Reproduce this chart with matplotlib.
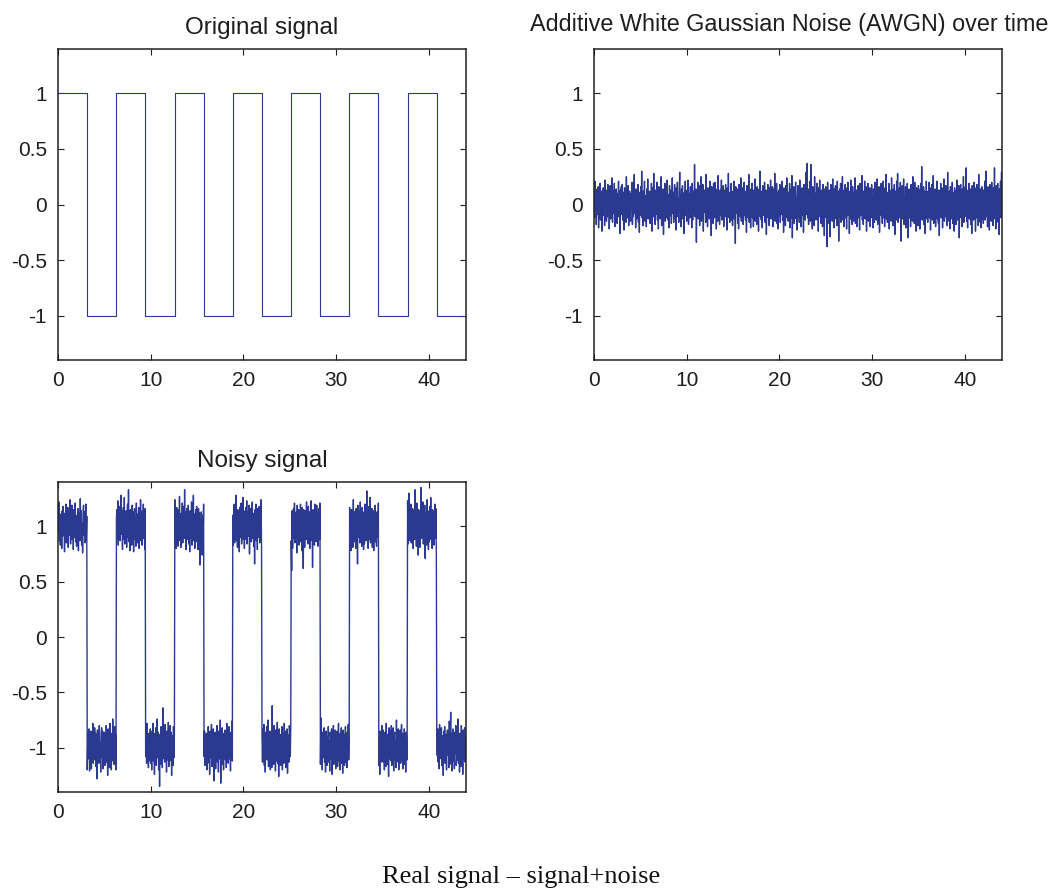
import matplotlib.pyplot as plt
import numpy as np

# Data
# square wave: switching instants and the level held after each one
switch_times = [0, 3.14, 6.28, 9.42, 12.57, 15.71, 18.85, 21.99, 25.13,
                28.27, 31.42, 34.56, 37.70, 40.84, 44.0]
levels = [1, -1, 1, -1, 1, -1, 1, -1, 1, -1, 1, -1, 1, -1]

dt = 0.05  # sample spacing of the noise records

# AWGN record (top right panel), one row per time unit
awgn = [
    0.08, -0.12, 0.21, -0.05, 0.14, -0.18, 0.02, 0.11, -0.09, 0.16, -0.21, 0.06, -0.03, 0.19, -0.14, 0.07, 0.12, -0.24, 0.04, -0.1,
    0.15, -0.07, 0.09, -0.19, 0.22, -0.02, 0.13, -0.15, 0.05, -0.11, 0.18, -0.06, 0.1, -0.22, 0.01, 0.17, -0.13, 0.08, -0.04, 0.24,
    -0.16, 0.03, 0.12, -0.08, 0.19, -0.2, 0.07, -0.12, 0.14, 0.02, -0.17, 0.1, -0.05, 0.21, -0.11, 0.06, -0.26, 0.13, -0.01, 0.16,
    -0.09, 0.18, -0.14, 0.04, 0.11, -0.23, 0.15, -0.06, 0.08, -0.16, 0.25, -0.1, 0.03, -0.12, 0.17, -0.19, 0.09, 0.12, -0.07, -0.15,
    0.1, -0.04, 0.2, -0.18, 0.06, -0.11, 0.13, 0.27, -0.08, 0.02, -0.21, 0.14, -0.13, 0.09, -0.03, 0.18, -0.16, 0.05, -0.25, 0.11,
    0.03, 0.16, -0.1, 0.3, -0.12, 0.07, -0.19, 0.12, -0.05, 0.21, -0.15, 0.08, 0.01, -0.2, 0.14, -0.08, 0.23, -0.13, 0.06, -0.02,
    0.12, -0.17, 0.09, -0.07, 0.19, -0.24, 0.05, 0.15, -0.11, 0.28, -0.04, 0.1, -0.18, 0.13, -0.09, 0.02, 0.2, -0.14, 0.07, -0.22,
    0.16, -0.06, 0.11, -0.13, 0.04, 0.25, -0.19, 0.08, -0.02, 0.14, -0.27, 0.12, -0.08, 0.19, -0.15, 0.05, 0.1, -0.12, 0.22, -0.05,
    -0.14, 0.09, -0.21, 0.17, 0.03, -0.1, 0.13, -0.17, 0.06, 0.24, -0.08, 0.11, -0.16, 0.02, 0.18, -0.12, 0.07, -0.23, 0.15, -0.04,
    0.2, -0.11, 0.05, -0.16, 0.12, 0.29, -0.07, 0.09, -0.2, 0.14, -0.03, 0.17, -0.13, 0.08, -0.26, 0.11, -0.06, 0.21, -0.1, 0.04,
    -0.15, 0.13, -0.05, 0.22, -0.18, 0.07, 0.1, -0.12, 0.16, -0.08, 0.03, -0.21, 0.19, -0.14, 0.06, 0.12, -0.09, 0.36, -0.11, 0.05,
    0.14, -0.34, 0.09, -0.06, 0.2, -0.13, 0.04, 0.17, -0.19, 0.11, -0.02, 0.25, -0.15, 0.08, -0.1, 0.18, -0.24, 0.06, 0.13, -0.07,
    0.1, -0.16, 0.27, -0.09, 0.03, -0.2, 0.15, -0.05, 0.12, -0.13, 0.21, -0.11, 0.07, -0.28, 0.16, -0.04, 0.09, -0.17, 0.19, 0.02,
    -0.12, 0.2, -0.08, 0.14, -0.22, 0.06, 0.11, -0.15, 0.26, -0.03, 0.08, -0.18, 0.13, -0.1, 0.05, 0.22, -0.14, 0.1, -0.06, 0.17,
    -0.2, 0.07, 0.13, -0.11, 0.18, -0.07, 0.04, -0.23, 0.15, -0.12, 0.28, -0.09, 0.06, -0.16, 0.11, -0.02, 0.19, -0.14, 0.08, -0.19,
    0.12, -0.05, 0.21, -0.13, 0.09, -0.35, 0.16, -0.08, 0.03, 0.14, -0.17, 0.1, -0.22, 0.18, -0.06, 0.13, -0.11, 0.24, -0.15, 0.05,
    -0.09, 0.15, -0.18, 0.07, 0.2, -0.1, 0.02, -0.14, 0.12, -0.25, 0.17, -0.04, 0.09, -0.12, 0.27, -0.16, 0.06, 0.11, -0.21, 0.14,
    -0.03, 0.19, -0.12, 0.08, -0.2, 0.13, -0.07, 0.23, -0.15, 0.05, 0.1, -0.18, 0.16, -0.09, 0.02, -0.24, 0.14, -0.06, 0.3, -0.11,
    0.07, -0.14, 0.12, -0.21, 0.17, -0.04, 0.09, -0.1, 0.2, -0.16, 0.05, 0.13, -0.27, 0.11, -0.07, 0.18, -0.12, 0.04, -0.19, 0.15,
    -0.06, 0.22, -0.13, 0.1, -0.08, 0.16, -0.2, 0.03, 0.14, -0.11, 0.28, -0.15, 0.07, -0.05, 0.19, -0.17, 0.11, -0.22, 0.06, 0.13,
    -0.1, 0.18, -0.16, 0.05, 0.12, -0.09, 0.21, -0.14, 0.08, -0.25, 0.15, -0.03, 0.1, -0.19, 0.17, -0.07, 0.24, -0.12, 0.04, -0.15,
    0.11, -0.06, 0.19, -0.21, 0.07, 0.14, -0.12, 0.26, -0.3, 0.09, -0.04, 0.16, -0.17, 0.12, -0.08, 0.2, -0.13, 0.05, -0.23, 0.1,
    0.17, -0.11, 0.03, -0.16, 0.22, -0.07, 0.13, -0.2, 0.09, 0.15, -0.1, 0.06, -0.25, 0.18, -0.05, 0.11, -0.14, 0.29, -0.09, 0.04,
    0.37, -0.12, 0.08, -0.18, 0.14, -0.06, 0.21, -0.15, 0.36, -0.1, 0.05, -0.22, 0.16, -0.03, 0.12, -0.19, 0.25, -0.08, 0.1, -0.14,
    0.06, 0.19, -0.13, 0.09, -0.24, 0.15, -0.07, 0.22, -0.11, 0.04, -0.17, 0.13, 0.08, -0.2, 0.18, -0.05, 0.11, -0.28, 0.14, -0.09,
    0.16, -0.12, 0.07, -0.38, 0.2, -0.04, 0.1, -0.17, 0.13, -0.29, 0.05, 0.18, -0.1, 0.12, -0.15, 0.23, -0.06, 0.09, -0.21, 0.14,
    -0.08, 0.17, -0.13, 0.03, -0.19, 0.21, -0.09, 0.12, -0.33, 0.06, 0.14, -0.11, 0.19, -0.16, 0.08, -0.04, 0.25, -0.14, 0.1, -0.2,
    0.13, -0.07, 0.18, -0.12, 0.04, -0.22, 0.15, -0.1, 0.2, -0.05, 0.09, -0.26, 0.12, -0.13, 0.22, -0.08, 0.06, -0.18, 0.16, -0.03,
    -0.15, 0.11, -0.09, 0.24, -0.17, 0.07, 0.13, -0.2, 0.1, -0.06, 0.17, -0.12, 0.03, -0.23, 0.19, -0.1, 0.14, -0.07, 0.26, -0.14,
    0.05, -0.18, 0.12, -0.08, 0.21, -0.13, 0.09, 0.16, -0.24, 0.11, -0.04, 0.19, -0.15, 0.07, -0.11, 0.15, -0.2, 0.1, -0.06, 0.18,
    -0.12, 0.08, -0.21, 0.14, 0.02, -0.16, 0.2, -0.09, 0.13, -0.14, 0.06, 0.23, -0.18, 0.1, -0.07, 0.16, -0.25, 0.12, -0.03, 0.19,
    -0.1, 0.14, -0.17, 0.06, 0.21, -0.12, 0.09, -0.2, 0.15, -0.05, 0.27, -0.13, 0.08, -0.16, 0.11, -0.08, 0.19, -0.22, 0.13, -0.04,
    0.1, -0.15, 0.24, -0.1, 0.05, -0.19, 0.14, -0.07, 0.18, -0.27, 0.12, 0.03, -0.14, 0.21, -0.09, 0.28, -0.16, 0.07, -0.12, 0.15,
    -0.06, 0.2, -0.33, 0.11, -0.08, 0.17, -0.13, 0.09, 0.23, -0.18, 0.04, -0.11, 0.16, -0.21, 0.13, -0.05, 0.19, -0.3, 0.1, -0.09,
    0.14, -0.12, 0.07, -0.2, 0.18, -0.06, 0.12, -0.15, 0.25, -0.1, 0.03, -0.17, 0.2, -0.13, 0.08, -0.24, 0.15, -0.04, 0.11, -0.19,
    0.17, -0.08, 0.13, -0.22, 0.06, 0.19, -0.11, 0.34, -0.14, 0.09, -0.05, 0.16, -0.18, 0.12, -0.26, 0.1, -0.07, 0.21, -0.13, 0.04,
    -0.16, 0.12, -0.09, 0.2, -0.12, 0.07, -0.23, 0.15, -0.04, 0.18, -0.14, 0.1, 0.26, -0.17, 0.05, -0.1, 0.14, -0.2, 0.09, -0.06,
    0.21, -0.13, 0.08, -0.17, 0.13, -0.28, 0.11, -0.05, 0.19, -0.12, 0.06, 0.15, -0.21, 0.1, -0.08, 0.23, -0.15, 0.03, -0.11, 0.17,
    -0.07, 0.14, -0.19, 0.29, -0.1, 0.05, -0.15, 0.12, -0.22, 0.16, -0.04, 0.09, -0.13, 0.2, -0.17, 0.07, 0.11, -0.24, 0.15, -0.09,
    0.12, -0.18, 0.06, 0.22, -0.14, 0.1, -0.07, 0.17, -0.3, 0.13, -0.02, 0.18, -0.12, 0.08, -0.2, 0.14, -0.09, 0.25, -0.16, 0.05,
    -0.11, 0.16, -0.05, 0.33, -0.15, 0.09, -0.21, 0.13, -0.08, 0.19, -0.13, 0.04, 0.14, -0.18, 0.1, -0.26, 0.17, -0.06, 0.11, -0.14,
    0.2, -0.09, 0.15, -0.24, 0.08, -0.12, 0.18, -0.05, 0.12, -0.19, 0.27, -0.1, 0.06, -0.16, 0.14, -0.21, 0.09, 0.16, -0.13, 0.03,
    -0.17, 0.13, -0.08, 0.21, -0.14, 0.05, 0.3, -0.11, 0.1, -0.2, 0.16, -0.06, 0.12, -0.23, 0.18, -0.09, 0.07, -0.15, 0.2, -0.04,
    0.11, -0.19, 0.15, -0.07, 0.33, -0.13, 0.09, -0.22, 0.17, -0.1, 0.05, 0.19, -0.16, 0.12, -0.27, 0.14, -0.08, 0.21, -0.12, 0.29,
]

# noise riding on the square wave in the bottom panel
noise_on_signal = [
    0.15, -0.06, 0.22, -0.13, 0.08, -0.17, 0.11, 0.03, -0.2, 0.14, -0.09, 0.18, -0.04, 0.09, -0.23, 0.12, -0.07, 0.2, -0.15, 0.06,
    -0.11, 0.17, -0.19, 0.05, 0.13, -0.08, 0.24, -0.16, 0.02, -0.12, 0.19, -0.05, 0.1, -0.21, 0.15, -0.1, 0.07, 0.21, -0.14, 0.04,
    -0.18, 0.1, -0.06, 0.16, -0.22, 0.12, 0.06, -0.13, 0.25, -0.09, 0.14, -0.17, 0.03, -0.24, 0.11, 0.19, -0.08, 0.13, -0.15, 0.07,
    0.2, -0.12, 0.09, -0.2, 0.05, 0.14, -0.1, 0.17, -0.21, 0.08, -0.04, 0.15, -0.19, 0.11, -0.07, 0.22, -0.14, 0.06, -0.11, 0.18,
    -0.08, 0.13, -0.17, 0.07, -0.28, 0.16, -0.05, 0.1, -0.14, 0.2, -0.11, 0.04, -0.22, 0.12, 0.18, -0.09, 0.15, -0.19, 0.08, -0.03,
    0.14, -0.16, 0.11, -0.07, 0.2, -0.13, 0.06, -0.25, 0.17, -0.04, 0.1, -0.18, 0.22, -0.1, 0.05, -0.2, 0.13, -0.08, 0.26, -0.12,
    0.09, -0.15, 0.19, -0.05, 0.12, -0.2, 0.08, 0.15, -0.11, 0.23, -0.17, 0.06, -0.09, 0.18, -0.13, 0.1, 0.28, -0.07, 0.14, -0.21,
    0.05, 0.17, -0.12, 0.26, -0.16, 0.09, -0.05, 0.14, -0.19, 0.11, 0.2, -0.1, 0.33, -0.14, 0.07, -0.22, 0.15, -0.03, 0.12, -0.17,
    0.19, -0.09, 0.13, -0.23, 0.06, 0.16, -0.12, 0.08, -0.18, 0.21, -0.06, 0.11, -0.15, 0.04, 0.17, -0.2, 0.1, -0.08, 0.24, -0.13,
    0.07, -0.17, 0.14, -0.05, 0.2, -0.11, 0.03, -0.21, 0.16, -0.08, 0.12, -0.14, 0.22, -0.1, 0.06, -0.18, 0.13, 0.09, -0.12, 0.17,
    -0.14, 0.1, -0.2, 0.15, -0.06, 0.22, -0.12, 0.08, -0.24, 0.13, -0.03, 0.18, -0.16, 0.11, 0.26, -0.09, 0.14, -0.2, 0.07, -0.35,
    0.12, -0.15, 0.19, -0.08, 0.09, -0.18, 0.36, -0.1, 0.05, 0.17, -0.13, 0.21, -0.06, 0.1, -0.22, 0.15, -0.11, 0.04, 0.23, -0.17,
    0.08, -0.12, 0.2, -0.07, 0.14, -0.25, 0.11, 0.05, -0.16, 0.19, -0.09, 0.13, 0.24, -0.14, 0.07, -0.2, 0.17, -0.05, 0.1, -0.18,
    0.15, -0.1, 0.27, -0.13, 0.06, -0.19, 0.12, -0.04, 0.21, -0.15, 0.09, 0.18, -0.11, 0.33, -0.08, 0.13, -0.21, 0.07, 0.16, -0.12,
    -0.06, 0.19, -0.16, 0.1, -0.23, 0.14, 0.05, -0.11, 0.22, -0.17, 0.08, -0.07, 0.28, -0.13, 0.11, -0.2, 0.04, 0.15, -0.1, 0.18,
    -0.14, 0.09, -0.21, 0.16, -0.05, 0.12, -0.35, 0.07, -0.18, 0.13, 0.02, -0.26, 0.1, -0.12, 0.2, -0.08, 0.15, -0.16, 0.06, -0.11,
    0.13, -0.2, 0.08, -0.14, 0.19, -0.06, 0.11, -0.24, 0.15, -0.09, 0.05, 0.21, -0.17, 0.1, -0.12, 0.17, -0.3, 0.08, -0.05, 0.14,
    -0.19, 0.11, -0.08, 0.2, -0.13, 0.06, -0.22, 0.15, -0.1, 0.04, 0.25, -0.32, 0.12, -0.07, 0.18, -0.15, 0.09, -0.2, 0.13, -0.04,
    0.16, -0.11, 0.07, -0.18, 0.22, -0.06, 0.13, -0.14, 0.09, 0.19, -0.1, 0.05, -0.21, 0.14, -0.08, 0.24, -0.12, 0.1, -0.17, 0.06,
    0.2, -0.15, 0.11, -0.04, 0.28, -0.13, 0.08, -0.19, 0.15, -0.07, 0.12, -0.23, 0.17, 0.03, -0.1, 0.21, -0.16, 0.09, -0.12, 0.26,
    -0.08, 0.14, -0.2, 0.1, -0.05, 0.17, -0.12, 0.23, -0.16, 0.07, 0.13, -0.09, 0.19, -0.25, 0.11, -0.03, 0.16, -0.14, 0.08, 0.22,
    -0.11, 0.05, -0.18, 0.12, -0.34, 0.15, -0.07, 0.2, -0.13, 0.09, -0.21, 0.16, 0.04, -0.1, 0.18, -0.15, 0.11, -0.06, 0.24, -0.19,
    0.1, -0.13, 0.17, -0.08, 0.21, -0.16, 0.06, -0.22, 0.14, -0.04, 0.19, -0.11, 0.08, 0.25, -0.17, 0.12, -0.09, 0.15, -0.2, 0.07,
    0.13, -0.18, 0.38, -0.1, 0.09, -0.15, 0.2, -0.06, 0.11, -0.21, 0.16, -0.12, 0.05, 0.23, -0.14, 0.1, -0.26, 0.17, -0.07, 0.12,
    -0.16, 0.08, -0.11, 0.19, -0.2, 0.13, 0.06, -0.14, 0.22, -0.09, 0.15, -0.18, 0.1, -0.05, 0.17, -0.23, 0.12, 0.07, -0.13, 0.2,
    0.12, -0.08, 0.18, -0.13, -0.4, 0.14, -0.2, 0.06, 0.16, -0.11, 0.21, -0.15, 0.09, -0.07, 0.13, -0.24, 0.19, -0.1, 0.05, 0.15,
    -0.17, 0.12, -0.06, 0.2, -0.14, 0.08, -0.22, 0.17, -0.1, -0.38, 0.15, 0.11, -0.19, 0.07, 0.14, -0.12, 0.22, -0.08, 0.1, -0.16,
    0.18, -0.09, 0.13, -0.2, 0.06, -0.13, 0.23, -0.11, 0.09, -0.37, 0.15, -0.05, 0.12, -0.17, 0.2, -0.1, 0.07, -0.14, 0.19, -0.06,
    0.12, -0.18, 0.08, 0.16, -0.12, 0.21, -0.15, 0.27, -0.07, 0.1, -0.2, 0.14, -0.09, 0.05, 0.18, -0.13, 0.11, -0.22, 0.15, -0.04,
    -0.16, 0.1, -0.07, 0.19, -0.13, 0.06, -0.21, 0.14, 0.09, -0.1, 0.17, -0.24, 0.12, -0.05, 0.2, -0.15, 0.08, -0.11, 0.16, -0.19,
    0.11, -0.06, 0.15, -0.17, 0.08, 0.22, -0.12, 0.05, -0.2, 0.13, -0.09, 0.18, -0.14, 0.1, -0.23, 0.16, -0.04, 0.12, -0.16, 0.07,
    0.19, -0.13, 0.09, -0.18, 0.14, -0.07, 0.21, -0.11, 0.06, 0.17, -0.16, 0.1, -0.22, 0.15, -0.05, 0.12, -0.19, 0.24, -0.09, 0.13,
    -0.14, 0.08, -0.2, 0.16, -0.06, 0.11, -0.34, 0.19, -0.1, 0.14, 0.05, -0.15, 0.22, -0.12, 0.09, -0.18, 0.17, -0.07, 0.13, -0.21,
    0.1, -0.16, 0.2, -0.09, 0.15, -0.13, 0.32, -0.08, 0.12, -0.2, 0.07, 0.18, -0.12, 0.26, -0.15, 0.1, -0.06, 0.16, -0.19, 0.09,
    0.14, -0.22, 0.11, -0.05, 0.19, -0.14, 0.08, -0.18, 0.13, 0.06, -0.1, 0.21, -0.16, 0.09, -0.24, 0.15, -0.07, 0.12, -0.13, 0.2,
    -0.09, 0.16, -0.13, 0.07, -0.2, 0.14, 0.1, -0.17, 0.22, -0.06, 0.12, -0.15, 0.09, -0.26, 0.18, -0.1, 0.05, 0.15, -0.12, 0.2,
    -0.16, 0.11, -0.07, 0.18, -0.21, 0.09, 0.14, -0.11, 0.06, -0.18, 0.25, -0.13, 0.1, -0.05, 0.17, -0.2, 0.12, -0.08, 0.16, -0.14,
    0.07, 0.21, -0.12, 0.13, -0.19, 0.08, -0.06, 0.17, -0.15, 0.1, -0.22, 0.14, 0.04, -0.11, 0.23, -0.16, 0.09, 0.3, -0.13, 0.11,
    -0.08, 0.2, -0.15, 0.12, -0.05, 0.16, -0.2, 0.09, 0.14, -0.12, 0.33, -0.1, 0.07, -0.18, 0.21, -0.14, 0.11, -0.26, 0.15, -0.06,
    0.13, -0.19, 0.1, 0.35, -0.11, 0.17, -0.07, 0.22, -0.16, 0.09, -0.13, 0.19, -0.29, 0.12, 0.05, -0.17, 0.24, -0.09, 0.14, -0.21,
    0.09, -0.14, 0.18, -0.08, 0.26, -0.12, 0.11, -0.2, 0.15, -0.05, 0.13, -0.17, 0.07, 0.2, -0.11, 0.16, -0.23, 0.1, -0.07, 0.17,
    -0.13, 0.08, -0.19, 0.21, -0.1, 0.14, -0.06, 0.18, -0.16, 0.11, 0.05, -0.25, 0.15, -0.09, 0.19, -0.14, 0.07, 0.12, -0.2, 0.1,
    0.16, -0.07, 0.12, -0.18, 0.24, -0.1, 0.08, 0.32, -0.15, 0.13, -0.21, 0.06, 0.17, -0.12, 0.1, -0.19, 0.14, -0.05, 0.2, -0.16,
    -0.09, 0.15, -0.11, 0.26, -0.14, 0.07, -0.22, 0.13, 0.09, -0.17, 0.2, -0.08, 0.12, -0.24, 0.16, -0.1, 0.05, 0.18, -0.13, 0.11,
]

# Build the series
t = np.arange(len(awgn)) * dt
idx = np.searchsorted(switch_times, t, side="right") - 1
signal_sampled = np.array(levels)[idx]
noisy = signal_sampled + np.array(noise_on_signal)

# Plotting
plt.rcParams.update({"font.family": ["Liberation Sans", "DejaVu Sans"]})
line_color = "#2b3991"
text_color = "#1e1e1e"

fig = plt.figure(figsize=(10.61, 8.88), dpi=100)
ax1 = fig.add_axes([0.0547, 0.5946, 0.3845, 0.3502])
ax2 = fig.add_axes([0.5598, 0.5946, 0.3845, 0.3502])
ax3 = fig.add_axes([0.0547, 0.1081, 0.3845, 0.3491])

ax1.step(switch_times, levels + [levels[-1]], where="post", color=line_color, lw=0.8)
ax2.plot(t, awgn, color=line_color, lw=1.0)
ax3.plot(t, noisy, color=line_color, lw=1.0)

ax1.set_title("Original signal", fontsize=17.5, pad=11, color=text_color)
ax2.set_title("Additive White Gaussian Noise (AWGN) over time", fontsize=16.8,
              pad=13, x=0.479, color=text_color)
ax3.set_title("Noisy signal", fontsize=17.5, pad=11, color=text_color)

for ax in (ax1, ax2, ax3):
    ax.set_xlim(0, 44)
    ax.set_ylim(-1.4, 1.4)
    ax.set_xticks([0, 10, 20, 30, 40])
    ax.set_yticks([-1, -0.5, 0, 0.5, 1])
    ax.set_yticklabels(["-1", "-0.5", "0", "0.5", "1"])
    ax.tick_params(direction="in", top=True, right=True, length=4, width=0.8,
                   labelsize=15, pad=8, colors=text_color)
    for sp in ax.spines.values():
        sp.set_linewidth(1.1)
        sp.set_color("#222222")

fig.text(0.491, 0.0056, "Real signal \u2013 signal+noise", ha="center",
         va="baseline", fontsize=19, family=["Liberation Serif", "DejaVu Serif"],
         color="#111111")

plt.savefig("out.png", dpi=100)
